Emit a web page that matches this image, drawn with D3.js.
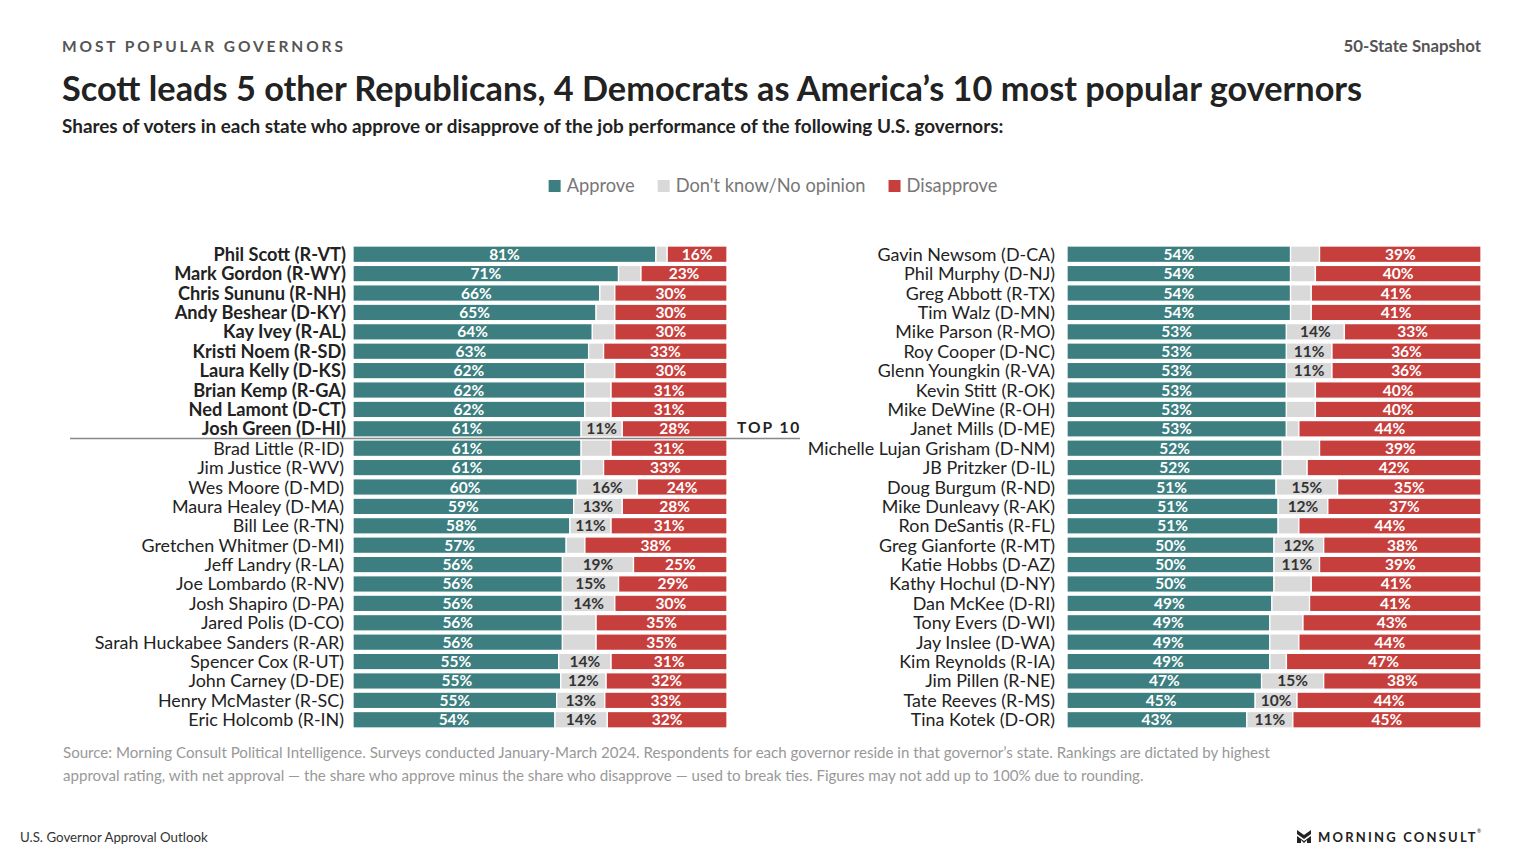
<!DOCTYPE html>
<html>
<head>
<meta charset="utf-8">
<script src="https://cdn.jsdelivr.net/npm/d3@7"></script>
<style>
    body { margin: 0; background: #fff; font-family: Lato, "Open Sans", sans-serif; }
</style>
</head>
<body>
<div id="chart"></div>
<script>
"use strict"

// left column: ranks 1-25
const leftNames = ["Phil Scott (R-VT)", "Mark Gordon (R-WY)", "Chris Sununu (R-NH)", "Andy Beshear (D-KY)",
    "Kay Ivey (R-AL)", "Kristi Noem (R-SD)", "Laura Kelly (D-KS)", "Brian Kemp (R-GA)", "Ned Lamont (D-CT)",
    "Josh Green (D-HI)", "Brad Little (R-ID)", "Jim Justice (R-WV)", "Wes Moore (D-MD)", "Maura Healey (D-MA)",
    "Bill Lee (R-TN)", "Gretchen Whitmer (D-MI)", "Jeff Landry (R-LA)", "Joe Lombardo (R-NV)", "Josh Shapiro (D-PA)",
    "Jared Polis (D-CO)", "Sarah Huckabee Sanders (R-AR)", "Spencer Cox (R-UT)", "John Carney (D-DE)",
    "Henry McMaster (R-SC)", "Eric Holcomb (R-IN)"];
const leftApprove = [81, 71, 66, 65, 64, 63, 62, 62, 62, 61, 61, 61, 60, 59, 58, 57, 56, 56, 56, 56, 56, 55, 55, 55, 54];
const leftUnsure = [3, 6, 4, 5, 6, 4, 8, 7, 7, 11, 8, 6, 16, 13, 11, 5, 19, 15, 14, 9, 9, 14, 12, 13, 14];
const leftDisapprove = [16, 23, 30, 30, 30, 33, 30, 31, 31, 28, 31, 33, 24, 28, 31, 38, 25, 29, 30, 35, 35, 31, 32, 33, 32];

// right column: ranks 26-50
const rightNames = ["Gavin Newsom (D-CA)", "Phil Murphy (D-NJ)", "Greg Abbott (R-TX)", "Tim Walz (D-MN)",
    "Mike Parson (R-MO)", "Roy Cooper (D-NC)", "Glenn Youngkin (R-VA)", "Kevin Stitt (R-OK)", "Mike DeWine (R-OH)",
    "Janet Mills (D-ME)", "Michelle Lujan Grisham (D-NM)", "JB Pritzker (D-IL)", "Doug Burgum (R-ND)",
    "Mike Dunleavy (R-AK)", "Ron DeSantis (R-FL)", "Greg Gianforte (R-MT)", "Katie Hobbs (D-AZ)",
    "Kathy Hochul (D-NY)", "Dan McKee (D-RI)", "Tony Evers (D-WI)", "Jay Inslee (D-WA)", "Kim Reynolds (R-IA)",
    "Jim Pillen (R-NE)", "Tate Reeves (R-MS)", "Tina Kotek (D-OR)"];
const rightApprove = [54, 54, 54, 54, 53, 53, 53, 53, 53, 53, 52, 52, 51, 51, 51, 50, 50, 50, 49, 49, 49, 49, 47, 45, 43];
const rightUnsure = [7, 6, 5, 5, 14, 11, 11, 7, 7, 3, 9, 6, 15, 12, 5, 12, 11, 9, 9, 8, 7, 4, 15, 10, 11];
const rightDisapprove = [39, 40, 41, 41, 33, 36, 36, 40, 40, 44, 39, 42, 35, 37, 44, 38, 39, 41, 41, 43, 44, 47, 38, 44, 45];

const seriesKeys = ["approve", "unsure", "disapprove"];
const legendLabels = ["Approve", "Don't know/No opinion", "Disapprove"];
const topCount = 10;

let App = {
    width: 1514,
    height: 854,
    colors: d3.scaleOrdinal().domain(seriesKeys).range(["#3d7f80", "#d9d9d9", "#c73f3d"]),
    textColors: d3.scaleOrdinal().domain(seriesKeys).range(["#ffffff", "#333333", "#ffffff"]),
    rowTop: 246,
    rowBottom: 728
};

let svg = d3.select("#chart").append("svg")
    .attr("width", App.width)
    .attr("height", App.height);

drawHeader();
drawLegend();

drawPanel({
    names: leftNames, approve: leftApprove, unsure: leftUnsure, disapprove: leftDisapprove,
    x0: 353, x1: 727, labelX: 346, boldTop: true
});
drawPanel({
    names: rightNames, approve: rightApprove, unsure: rightUnsure, disapprove: rightDisapprove,
    x0: 1067, x1: 1481, labelX: 1057, boldTop: false
});

drawFooter();

/* titles at the top of the page */
function drawHeader() {
    svg.append("text")
        .attr("x", 62).attr("y", 52)
        .style("font-size", "15.5px").style("font-weight", 700)
        .style("letter-spacing", "2.9px").style("fill", "#555")
        .text("MOST POPULAR GOVERNORS");

    svg.append("text")
        .attr("x", 1481).attr("y", 52)
        .attr("text-anchor", "end")
        .style("font-size", "16.8px").style("font-weight", 700).style("fill", "#555")
        .text("50-State Snapshot");

    svg.append("text")
        .attr("x", 62).attr("y", 101)
        .style("font-size", "34.3px").style("font-weight", 700).style("fill", "#222")
        .text("Scott leads 5 other Republicans, 4 Democrats as America\u2019s 10 most popular governors");

    svg.append("text")
        .attr("x", 62).attr("y", 133)
        .style("font-size", "18.9px").style("font-weight", 700).style("fill", "#222")
        .text("Shares of voters in each state who approve or disapprove of the job performance of the following U.S. governors:");
}

/* legend centred above the two columns */
function drawLegend() {
    let legend = svg.append("g").attr("class", "legend");
    let offset = 0;
    legendLabels.forEach((label, i) => {
        let item = legend.append("g").attr("transform", "translate(" + offset + ",0)");
        item.append("rect")
            .attr("x", 0).attr("y", -6)
            .attr("width", 12).attr("height", 12)
            .style("fill", App.colors(seriesKeys[i]));
        let t = item.append("text")
            .attr("x", 18).attr("y", 6)
            .style("font-size", "18.3px").style("fill", "#777")
            .text(label);
        offset += 18 + t.node().getComputedTextLength() + 23;
    });
    let legendWidth = offset - 23;
    legend.attr("transform", "translate(" + (773 - legendWidth / 2) + ",186)");
}

/* one column of 25 stacked bars */
function drawPanel(opts) {
    let rows = opts.names.map((name, i) => ({
        name: name,
        rank: i,
        approve: opts.approve[i],
        unsure: opts.unsure[i],
        disapprove: opts.disapprove[i]
    }));

    let y = d3.scaleBand()
        .domain(opts.names)
        .range([App.rowTop, App.rowBottom])
        .paddingInner(0.15);

    let x = d3.scaleLinear()
        .domain([0, 1])
        .range([opts.x0, opts.x1]);

    let stacked = d3.stack()
        .keys(seriesKeys)
        .offset(d3.stackOffsetExpand)(rows);

    let panel = svg.append("g");

    let groups = panel.selectAll(".series")
        .data(stacked)
        .enter().append("g")
        .attr("class", "series");

    groups.selectAll("rect")
        .data(d => d.map(p => ({ key: d.key, p: p })))
        .enter().append("rect")
        .attr("x", d => x(d.p[0]))
        .attr("y", d => y(d.p.data.name))
        .attr("width", d => Math.max(0, x(d.p[1]) - x(d.p[0])))
        .attr("height", y.bandwidth())
        .style("fill", d => App.colors(d.key))
        .style("stroke", "#fff")
        .style("stroke-width", 1.3);

    groups.selectAll("text")
        .data(d => d.map(p => ({ key: d.key, p: p })).filter(d => d.key !== "unsure" || d.p.data.unsure >= 10))
        .enter().append("text")
        .attr("x", d => (x(d.p[0]) + x(d.p[1])) / 2)
        .attr("y", d => y(d.p.data.name) + y.bandwidth() / 2 + 5.5)
        .attr("text-anchor", "middle")
        .style("font-size", "15.5px").style("font-weight", 700)
        .style("fill", d => App.textColors(d.key))
        .text(d => d.p.data[d.key] + "%");

    panel.selectAll(".name")
        .data(rows)
        .enter().append("text")
        .attr("class", "name")
        .attr("x", d => (opts.boldTop && d.rank < topCount) ? opts.labelX : opts.labelX - 2)
        .attr("y", d => y(d.name) + y.bandwidth() / 2 + 6.5)
        .attr("text-anchor", "end")
        .style("font-size", d => (opts.boldTop && d.rank < topCount) ? "18.2px" : "17.9px")
        .style("font-weight", d => (opts.boldTop && d.rank < topCount) ? 700 : 400)
        .style("fill", "#222")
        .text(d => d.name);

    if (opts.boldTop) {
        let lineY = y(opts.names[topCount]) - y.step() * y.paddingInner() / 2;
        panel.append("line")
            .attr("x1", 70).attr("x2", 800)
            .attr("y1", lineY).attr("y2", lineY)
            .style("stroke", "#888").style("stroke-width", 1.5);
        panel.append("text")
            .attr("x", 737).attr("y", lineY - 6)
            .style("font-size", "15.5px").style("font-weight", 700)
            .style("letter-spacing", "2px").style("fill", "#222")
            .text("TOP 10");
    }
}

/* source note, page label and logo */
function drawFooter() {
    let note = [
        "Source: Morning Consult Political Intelligence. Surveys conducted January-March 2024. Respondents for each governor reside in that governor\u2019s state. Rankings are dictated by highest",
        "approval rating, with net approval \u2014 the share who approve minus the share who disapprove \u2014 used to break ties. Figures may not add up to 100% due to rounding."
    ];
    svg.selectAll(".note")
        .data(note)
        .enter().append("text")
        .attr("class", "note")
        .attr("x", 63)
        .attr("y", (d, i) => 758 + i * 23)
        .style("font-size", "15.1px").style("fill", "#999")
        .text(d => d);

    svg.append("text")
        .attr("x", 20).attr("y", 842)
        .style("font-size", "13.3px").style("fill", "#333")
        .text("U.S. Governor Approval Outlook");

    let logo = svg.append("g").attr("transform", "translate(1297,830)");
    logo.append("path")
        .attr("d", "M0,0 L7,5 L14,0 L14,4 L7,9 L0,4 Z M0,6 L7,11 L14,6 L14,13 L10,13 L10,10 L7,13 L4,10 L4,13 L0,13 Z")
        .style("fill", "#222");
    logo.append("text")
        .attr("x", 21).attr("y", 12)
        .style("font-size", "13px").style("font-weight", 700)
        .style("letter-spacing", "2.2px").style("fill", "#222")
        .text("MORNING CONSULT");
    logo.append("text")
        .attr("x", 180).attr("y", 3)
        .style("font-size", "5px").style("fill", "#222")
        .text("\u00ae");
}
</script>
</body>
</html>
